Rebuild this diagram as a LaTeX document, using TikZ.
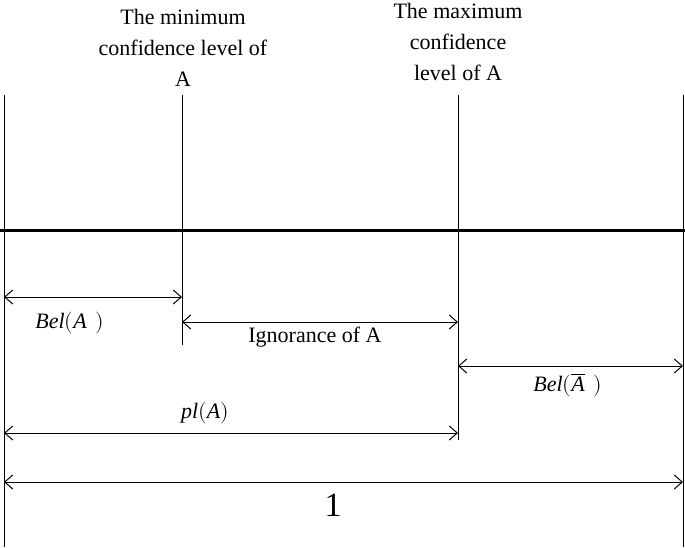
\documentclass[tikz,border=0pt]{standalone}
\usepackage{fontspec}
\setmainfont{Liberation Serif}
\usepackage{unicode-math}
\setmathfont{Latin Modern Math}
\setmathfont[range={it/{latin,Latin}}]{Liberation Serif Italic}
\usetikzlibrary{arrows.meta}
\begin{document}
\begin{tikzpicture}[x=1pt, y=-1pt, font=\fontsize{22}{31}\selectfont,
  bar/.style={line width=1pt}, dim/.style={line width=1pt, {Straight Barb[length=8pt,width=14pt]}-{Straight Barb[length=8pt,width=14pt]}},
  txt/.style={align=center, inner sep=0pt}]
\useasboundingbox (0,0) rectangle (685,547);
% vertical lines
\coordinate (L0) at (4,95);   \coordinate (L1) at (4,547);
\coordinate (M0) at (182,95); \coordinate (M1) at (182,345);
\coordinate (X0) at (458,95); \coordinate (X1) at (458,440);
\coordinate (R0) at (683,95); \coordinate (R1) at (683,547);
\draw[bar] (L0) -- (L1);
\draw[bar] (M0) -- (M1);
\draw[bar] (X0) -- (X1);
\draw[bar] (R0) -- (R1);
% thick line
\coordinate (H0) at (0,230); \coordinate (H1) at (685,230);
\draw[line width=3pt] (H0) -- (H1);
% top texts
\node[txt] (tmin) at (183,48) {The minimum\\confidence level of\\A};
\node[txt] (tmax) at (458,42) {The maximum\\confidence\\level of A};
% dimensions
\coordinate (a0) at (4,297);   \coordinate (a1) at (182,297);
\coordinate (b0) at (182,322); \coordinate (b1) at (458,322);
\coordinate (c0) at (458,366); \coordinate (c1) at (683,366);
\coordinate (d0) at (4,433);   \coordinate (d1) at (458,433);
\coordinate (e0) at (4,482);   \coordinate (e1) at (683,482);
\draw[dim] (a0) -- (a1);
\draw[dim] (b0) -- (b1);
\draw[dim] (c0) -- (c1);
\draw[dim] (d0) -- (d1);
\draw[dim] (e0) -- (e1);
\node (belA) at (70,323) {$Bel(A\ \,)$};
\node (ign) at (315,337) {Ignorance of A};
\node (belnA) at (568,385) {$Bel(\overline{A}\ \,)$};
\node (plA) at (205,413) {$pl(A)$};
\node[font=\fontsize{34}{38}\selectfont] (one) at (333,505) {1};
\end{tikzpicture}
\end{document}
